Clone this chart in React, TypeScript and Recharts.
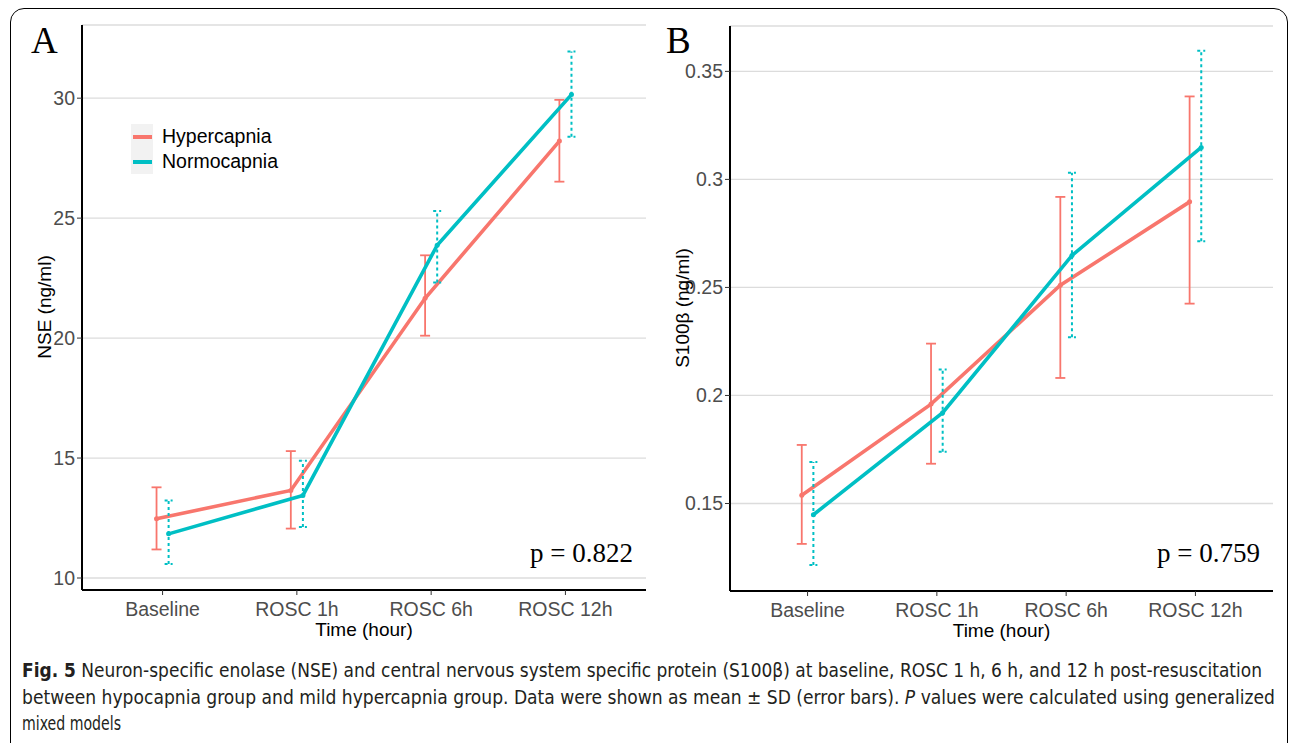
import { LineChart, Line, XAxis, YAxis, CartesianGrid, ErrorBar, Legend } from 'recharts'

const categories = ['Baseline', 'ROSC 1h', 'ROSC 6h', 'ROSC 12h']

// Panel A: NSE (ng/ml), mean with lower / upper end of the SD bar
const nseHyperMean = [12.47, 13.65, 21.66, 28.21]
const nseHyperLow = [11.19, 12.06, 20.1, 26.52]
const nseHyperHigh = [13.78, 15.29, 23.45, 29.93]
const nseNormoMean = [11.84, 13.44, 23.87, 30.15]
const nseNormoLow = [10.58, 12.13, 22.32, 28.39]
const nseNormoHigh = [13.23, 14.89, 25.3, 31.95]
const nseTicks = [10, 15, 20, 25, 30]

// Panel B: S100β (ng/ml)
const s100HyperMean = [0.1538, 0.196, 0.251, 0.2896]
const s100HyperLow = [0.1313, 0.1684, 0.2081, 0.2425]
const s100HyperHigh = [0.1771, 0.224, 0.2919, 0.3384]
const s100NormoMean = [0.1448, 0.192, 0.2648, 0.3148]
const s100NormoLow = [0.1215, 0.174, 0.227, 0.2714]
const s100NormoHigh = [0.1692, 0.212, 0.3031, 0.3595]
const s100Ticks = [0.15, 0.2, 0.25, 0.3, 0.35]

const HYPER = '#F8766D'
const NORMO = '#00BFC4'
const DODGE = 0.045
const SANS = '"Liberation Sans", Arial, sans-serif'
const SERIF = '"Liberation Serif", "Times New Roman", serif'

function toRows(mean: number[], low: number[], high: number[], shift: number) {
  return mean.map((m, i) => ({ x: i + shift, y: m, err: [m - low[i], high[i] - m] }))
}

const tickStyle = { fill: '#4D4D4D', fontSize: 19.5, fontFamily: SANS }

function LegendBox(props: any) {
  const items = props.payload || []
  return (
    <div style={{ fontFamily: SANS, fontSize: 19.5, color: '#000' }}>
      {items.map((p: any) => (
        <div key={p.value} style={{ display: 'flex', alignItems: 'center', height: 25 }}>
          <div style={{ width: 22, height: 25, background: '#F2F2F2', display: 'flex', alignItems: 'center', justifyContent: 'center' }}>
            <div style={{ width: 19, height: 4, background: p.color }} />
          </div>
          <span style={{ marginLeft: 9 }}>{p.value}</span>
        </div>
      ))}
    </div>
  )
}

interface PanelProps {
  hyper: { x: number; y: number; err: number[] }[]
  normo: { x: number; y: number; err: number[] }[]
  domain: [number, number]
  ticks: number[]
  width: number
  margin: { top: number; right: number; left: number; bottom: number }
  yWidth: number
  legend?: boolean
}

function Panel({ hyper, normo, domain, ticks, width, margin, yWidth, legend }: PanelProps) {
  return (
    <LineChart width={width} height={650} margin={margin}>
      <CartesianGrid vertical={false} stroke="#DCDCDC" strokeWidth={1.3} />
      <XAxis
        type="number"
        dataKey="x"
        domain={[-0.6, 3.6]}
        ticks={[0, 1, 2, 3]}
        interval={0}
        allowDataOverflow
        tickFormatter={(v: number) => categories[v]}
        axisLine={{ stroke: '#000', strokeWidth: 2 }}
        tickLine={{ stroke: '#333' }}
        tickSize={5}
        tickMargin={7}
        tick={tickStyle}
        height={55}
        label={{ value: 'Time (hour)', position: 'insideBottom', offset: 9, fill: '#000', fontSize: 19, fontFamily: SANS }}
      />
      <YAxis
        type="number"
        domain={domain}
        ticks={ticks}
        allowDataOverflow
        width={yWidth}
        axisLine={{ stroke: '#000', strokeWidth: 2 }}
        tickLine={{ stroke: '#333' }}
        tickSize={5}
        tick={tickStyle}
      />
      {legend && (
        <Legend
          layout="vertical"
          align="center"
          verticalAlign="middle"
          content={<LegendBox />}
          wrapperStyle={{ left: 131, top: 124, width: 180 }}
        />
      )}
      <Line
        data={hyper}
        dataKey="y"
        name="Hypercapnia"
        stroke={HYPER}
        strokeWidth={3.6}
        dot={{ r: 2.5, fill: HYPER, stroke: HYPER, strokeWidth: 0 }}
        activeDot={false}
        isAnimationActive={false}
      >
        <ErrorBar dataKey="err" direction="y" width={5} stroke={HYPER} strokeWidth={1.8} isAnimationActive={false} />
      </Line>
      <Line
        data={normo}
        dataKey="y"
        name="Normocapnia"
        stroke={NORMO}
        strokeWidth={3.6}
        dot={{ r: 2.5, fill: NORMO, stroke: NORMO, strokeWidth: 0 }}
        activeDot={false}
        isAnimationActive={false}
      >
        <ErrorBar dataKey="err" direction="y" width={4} stroke={NORMO} strokeWidth={2} strokeDasharray="3 3" isAnimationActive={false} />
      </Line>
    </LineChart>
  )
}

const abs = (left: number, top: number) => ({ position: 'absolute' as const, left, top })

export default function App() {
  return (
    <div style={{ position: 'absolute', left: 0, top: 0, width: 1290, height: 743, overflow: 'hidden', background: '#fff' }}>
      {/* rounded frame, bottom edge runs off the page */}
      <div style={{ position: 'absolute', left: 10, top: 8, width: 1276, height: 760, border: '1.6px solid #000', borderRadius: 14 }} />

      <div style={abs(0, 0)}>
        <Panel
          hyper={toRows(nseHyperMean, nseHyperLow, nseHyperHigh, -DODGE)}
          normo={toRows(nseNormoMean, nseNormoLow, nseNormoHigh, DODGE)}
          domain={[9.5, 33.05]}
          ticks={nseTicks}
          width={660}
          margin={{ top: 25, right: 14, left: 42, bottom: 5 }}
          yWidth={40}
          legend
        />
      </div>
      <div style={abs(655, 0)}>
        <Panel
          hyper={toRows(s100HyperMean, s100HyperLow, s100HyperHigh, -DODGE)}
          normo={toRows(s100NormoMean, s100NormoLow, s100NormoHigh, DODGE)}
          domain={[0.1095, 0.371]}
          ticks={s100Ticks}
          width={630}
          margin={{ top: 26, right: 12, left: 25, bottom: 4 }}
          yWidth={50}
        />
      </div>

      {/* y-axis titles */}
      <div style={{ ...abs(45, 307), transform: 'translate(-50%, -50%) rotate(-90deg)', whiteSpace: 'nowrap', fontFamily: SANS, fontSize: 19 }}>
        NSE (ng/ml)
      </div>
      <div style={{ ...abs(683, 308), transform: 'translate(-50%, -50%) rotate(-90deg)', whiteSpace: 'nowrap', fontFamily: SANS, fontSize: 19 }}>
        S100β (ng/ml)
      </div>

      {/* panel letters and p values */}
      <div style={{ ...abs(31, 22), fontFamily: SERIF, fontSize: 37, lineHeight: 1 }}>A</div>
      <div style={{ ...abs(666, 22), fontFamily: SERIF, fontSize: 37, lineHeight: 1 }}>B</div>
      <div style={{ ...abs(500, 540), width: 133, textAlign: 'right', fontFamily: SERIF, fontSize: 27, lineHeight: 1 }}>p = 0.822</div>
      <div style={{ ...abs(1127, 540), width: 133, textAlign: 'right', fontFamily: SERIF, fontSize: 27, lineHeight: 1 }}>p = 0.759</div>

      {/* caption */}
      <svg style={abs(0, 640)} width={1290} height={103}>
        <g fontFamily={'"Liberation Sans Narrow", "DejaVu Sans Condensed", sans-serif'} fontSize={19} fill="#231F20">
          <text x={22} y={37} textLength={1240} lengthAdjust="spacingAndGlyphs">
            <tspan fontWeight={700}>Fig. 5</tspan> Neuron-specific enolase (NSE) and central nervous system specific protein (S100β) at baseline, ROSC 1 h, 6 h, and 12 h post-resuscitation
          </text>
          <text x={22} y={64} textLength={1253} lengthAdjust="spacingAndGlyphs">
            between hypocapnia group and mild hypercapnia group. Data were shown as mean ± SD (error bars). <tspan fontStyle="italic">P</tspan> values were calculated using generalized
          </text>
          <text x={22} y={90} textLength={99} lengthAdjust="spacingAndGlyphs">mixed models</text>
        </g>
      </svg>
    </div>
  )
}
